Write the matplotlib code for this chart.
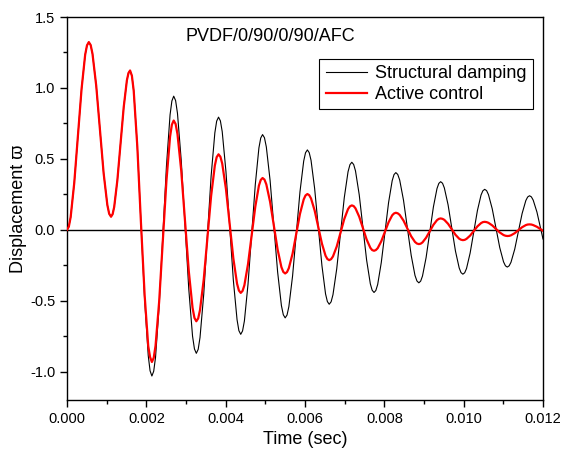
import matplotlib
matplotlib.use('Agg')
import matplotlib.pyplot as plt
from matplotlib.ticker import MultipleLocator

# values (time in sec, displacement)
time_s = [
    0.0, 0.000046, 0.000092, 0.000183, 0.000275, 0.000367, 0.000458, 0.000504,
    0.00055, 0.000597, 0.000643, 0.000737, 0.00083, 0.000923, 0.001017, 0.001063,
    0.00111, 0.00115, 0.00119, 0.00127, 0.00135, 0.00143, 0.00151, 0.00155,
    0.00159, 0.001636, 0.001682, 0.001773, 0.001865, 0.001957, 0.002048, 0.002094,
    0.00214, 0.002186, 0.002232, 0.002323, 0.002415, 0.002507, 0.002598, 0.002644,
    0.00269, 0.002738, 0.002785, 0.00288, 0.002975, 0.00307, 0.003165, 0.003213,
    0.00326, 0.003307, 0.003353, 0.003447, 0.00354, 0.003633, 0.003727, 0.003773,
    0.00382, 0.003867, 0.003913, 0.004007, 0.0041, 0.004193, 0.004287, 0.004333,
    0.00438, 0.004426, 0.004472, 0.004563, 0.004655, 0.004747, 0.004838, 0.004884,
    0.00493, 0.004978, 0.005025, 0.00512, 0.005215, 0.00531, 0.005405, 0.005453,
    0.0055, 0.005547, 0.005593, 0.005687, 0.00578, 0.005873, 0.005967, 0.006013,
    0.00606, 0.006106, 0.006152, 0.006243, 0.006335, 0.006427, 0.006518, 0.006564,
    0.00661, 0.006658, 0.006705, 0.0068, 0.006895, 0.00699, 0.007085, 0.007133,
    0.00718, 0.007227, 0.007273, 0.007367, 0.00746, 0.007553, 0.007647, 0.007693,
    0.00774, 0.007786, 0.007832, 0.007923, 0.008015, 0.008107, 0.008198, 0.008244,
    0.00829, 0.008338, 0.008387, 0.008483, 0.00858, 0.008677, 0.008773, 0.008822,
    0.00887, 0.008916, 0.008962, 0.009053, 0.009145, 0.009237, 0.009328, 0.009374,
    0.00942, 0.009467, 0.009513, 0.009607, 0.0097, 0.009793, 0.009887, 0.009933,
    0.00998, 0.010026, 0.010072, 0.010163, 0.010255, 0.010347, 0.010438, 0.010484,
    0.01053, 0.010578, 0.010625, 0.01072, 0.010815, 0.01091, 0.011005, 0.011053,
    0.0111, 0.011147, 0.011193, 0.011287, 0.01138, 0.011473, 0.011567, 0.011613,
    0.01166, 0.011707, 0.011753, 0.011847, 0.01194, 0.012,
]

structural = [
    0.0, 0.022, 0.089, 0.331, 0.662, 0.992, 1.234, 1.300,
    1.323, 1.302, 1.240, 1.015, 0.708, 0.400, 0.175, 0.113,
    0.092, 0.110, 0.161, 0.350, 0.608, 0.865, 1.054, 1.105,
    1.123, 1.086, 0.979, 0.585, 0.046, -0.493, -0.887, -0.994,
    -1.031, -0.997, -0.899, -0.538, -0.045, 0.449, 0.810, 0.908,
    0.942, 0.911, 0.821, 0.489, 0.036, -0.418, -0.750, -0.840,
    -0.871, -0.843, -0.760, -0.455, -0.039, 0.378, 0.683, 0.766,
    0.794, 0.768, 0.692, 0.411, 0.029, -0.354, -0.634, -0.711,
    -0.737, -0.713, -0.643, -0.385, -0.033, 0.319, 0.577, 0.647,
    0.671, 0.649, 0.584, 0.348, 0.025, -0.298, -0.534, -0.599,
    -0.621, -0.601, -0.542, -0.325, -0.029, 0.267, 0.484, 0.543,
    0.563, 0.544, 0.490, 0.291, 0.019, -0.253, -0.452, -0.506,
    -0.525, -0.508, -0.458, -0.275, -0.025, 0.226, 0.409, 0.459,
    0.476, 0.460, 0.415, 0.247, 0.017, -0.213, -0.381, -0.426,
    -0.442, -0.428, -0.386, -0.231, -0.020, 0.192, 0.346, 0.389,
    0.403, 0.390, 0.351, 0.209, 0.015, -0.180, -0.322, -0.361,
    -0.374, -0.362, -0.326, -0.196, -0.018, 0.161, 0.291, 0.327,
    0.339, 0.328, 0.295, 0.176, 0.013, -0.150, -0.269, -0.302,
    -0.313, -0.303, -0.273, -0.164, -0.014, 0.136, 0.245, 0.275,
    0.285, 0.276, 0.248, 0.148, 0.011, -0.126, -0.226, -0.254,
    -0.263, -0.254, -0.229, -0.137, -0.012, 0.114, 0.206, 0.231,
    0.240, 0.232, 0.209, 0.125, 0.010, -0.065,
]

active = [
    0.0, 0.022, 0.089, 0.331, 0.662, 0.992, 1.234, 1.300,
    1.323, 1.302, 1.240, 1.015, 0.708, 0.400, 0.175, 0.113,
    0.092, 0.110, 0.161, 0.350, 0.608, 0.865, 1.054, 1.105,
    1.123, 1.086, 0.979, 0.585, 0.046, -0.46, -0.82, -0.897,
    -0.932, -0.903, -0.818, -0.507, -0.081, 0.345, 0.656, 0.741,
    0.770, 0.746, 0.675, 0.416, 0.063, -0.291, -0.550, -0.621,
    -0.645, -0.625, -0.566, -0.351, -0.057, 0.238, 0.453, 0.512,
    0.532, 0.515, 0.467, 0.288, 0.044, -0.201, -0.380, -0.428,
    -0.445, -0.431, -0.391, -0.243, -0.040, 0.163, 0.311, 0.351,
    0.365, 0.354, 0.320, 0.197, 0.029, -0.140, -0.263, -0.297,
    -0.308, -0.298, -0.270, -0.168, -0.028, 0.112, 0.214, 0.242,
    0.252, 0.244, 0.221, 0.136, 0.019, -0.098, -0.183, -0.206,
    -0.214, -0.207, -0.188, -0.118, -0.021, 0.076, 0.146, 0.165,
    0.172, 0.167, 0.151, 0.092, 0.012, -0.068, -0.127, -0.143,
    -0.148, -0.143, -0.130, -0.081, -0.014, 0.053, 0.102, 0.115,
    0.120, 0.116, 0.105, 0.065, 0.010, -0.046, -0.086, -0.097,
    -0.101, -0.098, -0.089, -0.056, -0.011, 0.035, 0.068, 0.077,
    0.080, 0.077, 0.070, 0.042, 0.004, -0.035, -0.063, -0.070,
    -0.073, -0.071, -0.064, -0.041, -0.009, 0.024, 0.047, 0.054,
    0.056, 0.054, 0.049, 0.031, 0.006, -0.019, -0.037, -0.042,
    -0.044, -0.043, -0.039, -0.024, -0.003, 0.018, 0.033, 0.037,
    0.038, 0.037, 0.033, 0.021, 0.004, -0.007,
]

plt.rcParams['font.family'] = ['Liberation Sans', 'DejaVu Sans']

fig = plt.figure(figsize=(5.64, 4.59), dpi=100)
ax = fig.add_axes([67 / 564, 1 - 400 / 459, 476 / 564, 383 / 459])

ax.axhline(0, color='black', linewidth=1.0, zorder=1)
ax.plot(time_s, structural, color='black', linewidth=0.8, label='Structural damping',
        solid_joinstyle='round', zorder=2)
ax.plot(time_s, active, color='red', linewidth=1.6, label='Active control',
        solid_joinstyle='round', zorder=3)

ax.set_xlim(0, 0.012)
ax.set_ylim(-1.2, 1.5)
ax.xaxis.set_major_locator(MultipleLocator(0.002))
ax.xaxis.set_minor_locator(MultipleLocator(0.001))
ax.yaxis.set_major_locator(MultipleLocator(0.5))
ax.yaxis.set_minor_locator(MultipleLocator(0.25))
ax.xaxis.set_major_formatter(plt.FormatStrFormatter('%.3f'))
ax.yaxis.set_major_formatter(plt.FormatStrFormatter('%.1f'))
ax.tick_params(which='both', direction='out', top=False, right=False, labelsize=10.5, width=1.0)
ax.tick_params(which='major', length=5)
ax.tick_params(which='minor', length=3)
for s in ax.spines.values():
    s.set_linewidth(1.0)

ax.set_xlabel('Time (sec)', fontsize=13, labelpad=4)
ax.set_ylabel('Displacement ϖ', fontsize=13, labelpad=2)

ax.text(0.00512, 1.36, 'PVDF/0/90/0/90/AFC', fontsize=13, ha='center', va='center')

leg = ax.legend(loc='upper right', bbox_to_anchor=(0.979, 0.890), fontsize=13,
                fancybox=False, framealpha=1, edgecolor='black', borderaxespad=0,
                handlelength=2.3, handletextpad=0.45, labelspacing=0.2,
                borderpad=0.35)
leg.get_frame().set_linewidth(0.8)

fig.savefig('out.png', dpi=100)
plt.close(fig)
